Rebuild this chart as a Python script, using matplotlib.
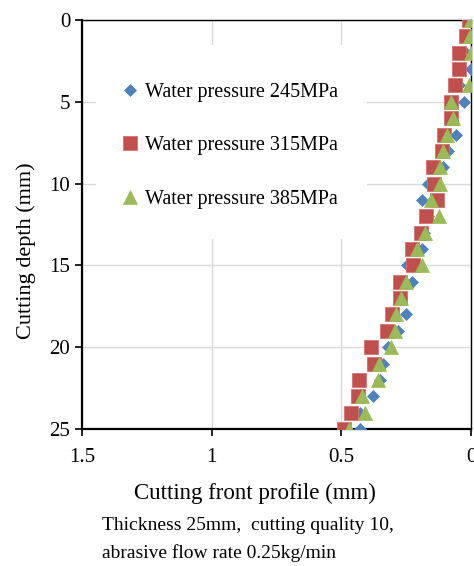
import matplotlib
matplotlib.use("Agg")
import matplotlib.pyplot as plt
from matplotlib.patches import Rectangle
import numpy as np

plt.rcParams["font.family"] = ["Liberation Serif", "DejaVu Serif"]

# cutting depth (mm) and cutting front profile (mm) per water pressure
depth = list(range(0, 26))
p245 = [0.00, 0.025, 0.02, 0.00, 0.045, 0.027, 0.075, 0.058, 0.089, 0.108,
        0.166, 0.19, 0.165, 0.18, 0.19, 0.248, 0.229, 0.27, 0.249, 0.283,
        0.32, 0.34, 0.351, 0.378, 0.428, 0.428]
p315 = [0.008, 0.019, 0.048, 0.048, 0.062, 0.078, 0.078, 0.104, 0.112, 0.146,
        0.143, 0.131, 0.172, 0.194, 0.229, 0.224, 0.274, 0.274, 0.306, 0.325,
        0.387, 0.374, 0.433, 0.437, 0.463, 0.489]
p385 = [0.00, 0.002, 0.00, np.nan, 0.008, 0.078, 0.069, 0.094, 0.108, 0.12,
        0.12, 0.155, 0.125, 0.177, 0.208, 0.19, 0.25, 0.271, 0.288, 0.293,
        0.31, 0.355, 0.358, 0.42, 0.409, 0.47]
labels = ["Water pressure 245MPa", "Water pressure 315MPa", "Water pressure 385MPa"]
xticks = [1.5, 1, 0.5, 0]
xticklabels = ["1.5", "1", "0.5", "0"]
yticks = [0, 5, 10, 15, 20, 25]

W, H = 474, 566
fig = plt.figure(figsize=(W / 100, H / 100), dpi=100)
ax = fig.add_axes([82 / W, 1 - 429 / H, (471 - 82) / W, (429 - 20) / H])

ax.plot(p245, depth, "D", color="#4F81BD", ms=6.5, mec="#4F81BD", mew=0.5,
        label=labels[0], zorder=3)
ax.plot(p315, depth, "s", color="#C0504D", ms=9.4, mec="#D07370", mew=0.6,
        label=labels[1], zorder=3)
ax.plot(p385, depth, "^", color="#9BBB59", ms=10, mec="#9BBB59", mew=0.5,
        label=labels[2], zorder=3)

ax.set_xlim(1.5, 0)
ax.set_ylim(25, 0)
ax.set_xticks(xticks)
ax.set_xticklabels(xticklabels)
ax.set_yticks(yticks)
ax.grid(True, color="#d9d9d9", lw=1)
ax.set_axisbelow(True)
ax.tick_params(labelsize=15, length=5, width=1.2, color="black")
ax.tick_params(axis="x", pad=9)
for s in ["left", "bottom"]:
    ax.spines[s].set_linewidth(1.6)
for s in ["top", "right"]:
    ax.spines[s].set_linewidth(1.0)

ax.set_xlabel("Cutting front profile (mm)", fontsize=16.5)
ax.xaxis.set_label_coords(0.445, -0.132)
ax.set_ylabel("Cutting depth (mm)", fontsize=16)
ax.yaxis.set_label_coords(-0.118, 0.435)

# white block behind the legend (hides the grid there)
ax.add_patch(Rectangle((0.036, 0.465), 0.697, 0.474, transform=ax.transAxes,
                       fc="white", ec="none", zorder=1))
ax.legend(loc="upper left", bbox_to_anchor=(0.103, 0.847), fontsize=14.5,
          frameon=False, handlelength=0.8, handletextpad=0.35,
          labelspacing=1.72, borderpad=0, borderaxespad=0)

fig.text(102 / W, 1 - 526 / H, "Thickness 25mm,  cutting quality 10,",
         fontsize=14, va="center", ha="left")
fig.text(102 / W, 1 - 553 / H, "abrasive flow rate 0.25kg/min",
         fontsize=14, va="center", ha="left")

fig.savefig("out.png", dpi=100)
